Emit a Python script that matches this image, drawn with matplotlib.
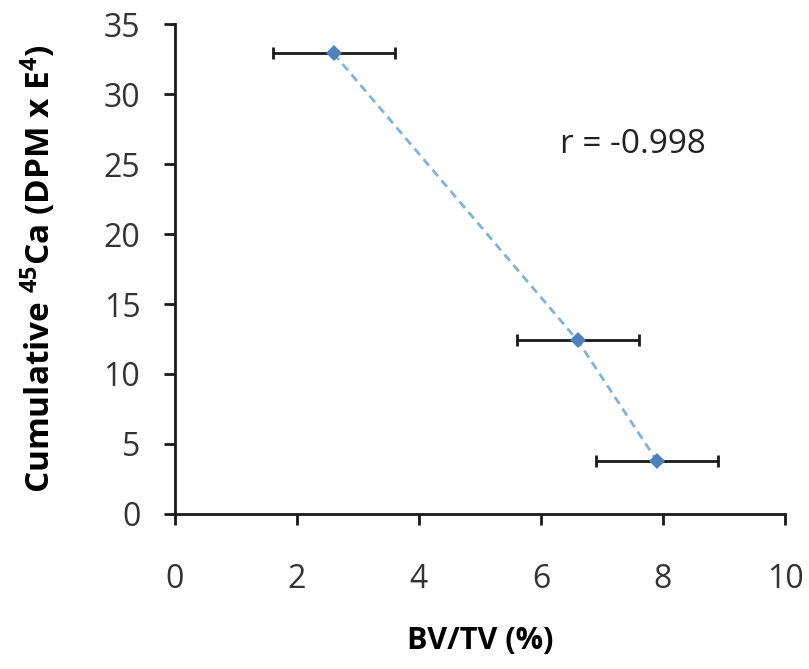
import matplotlib
matplotlib.use("Agg")
import matplotlib.pyplot as plt

# BV/TV (%) vs cumulative 45Ca
bvtv = [2.6, 6.6, 7.9]
bvtv_err = [1.0, 1.0, 1.0]
ca45 = [32.9, 12.4, 3.8]

plt.rcParams['font.family'] = ['Open Sans', 'DejaVu Sans']

fig = plt.figure(figsize=(8.09, 6.69), dpi=100)
ax = fig.add_axes([0.2163, 0.2317, 0.7540, 0.7324])

ax.plot(bvtv, ca45, '--', color='#7fb2dc', lw=2, dashes=(3, 2), zorder=2)
ax.errorbar(bvtv, ca45, xerr=bvtv_err, fmt='none', ecolor='#1a1a1a',
            elinewidth=2, capsize=4, capthick=2, zorder=3)
ax.plot(bvtv, ca45, 'D', color='#4f81bd', ms=8, zorder=4, markeredgewidth=0)

ax.set_xlim(0, 10)
ax.set_ylim(0, 35)
ax.set_xticks(range(0, 11, 2))
ax.set_yticks(range(0, 36, 5))

for s in ['top', 'right']:
    ax.spines[s].set_visible(False)
for s in ['left', 'bottom']:
    ax.spines[s].set_linewidth(2)
    ax.spines[s].set_color('#1a1a1a')
ax.tick_params(direction='out', length=8, width=2, labelsize=23,
               colors='#1a1a1a', labelcolor='#333333')
ax.tick_params(axis='x', pad=27)
ax.tick_params(axis='y', pad=17)

ax.set_xlabel('BV/TV (%)', fontsize=22, fontweight='bold', labelpad=22)
ax.set_ylabel('Cumulative $\\mathregular{^{45}}$Ca (DPM x E$\\mathregular{^{4}}$)',
              fontsize=24, fontweight='bold', labelpad=33)

ax.text(7.5, 26.4, 'r = -0.998', fontsize=24, color='#222222', ha='center', va='center')

fig.savefig('out.png', dpi=100)
